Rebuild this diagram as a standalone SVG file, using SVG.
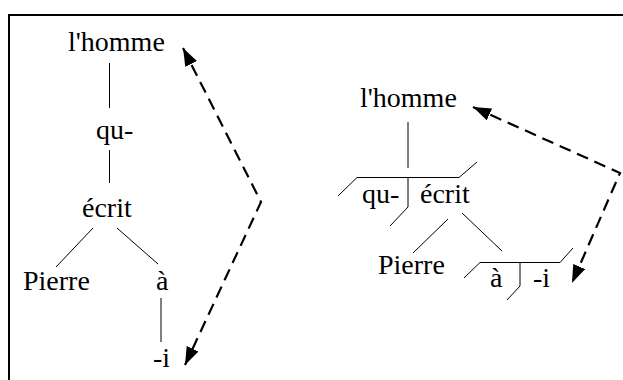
<svg xmlns="http://www.w3.org/2000/svg" width="623" height="380" viewBox="0 0 623 380">
<style>
.t{font-size:28px;fill:#000}
.l{stroke:#000;stroke-width:1;fill:none}
.d{stroke:#000;stroke-width:2.2;fill:none;stroke-dasharray:12 7}
</style>
<defs>
<marker id="ah" viewBox="0 0 18 13" refX="18" refY="6.5" markerWidth="18" markerHeight="13" markerUnits="userSpaceOnUse" orient="auto-start-reverse">
<path d="M0,0 L18,6.5 L0,13 Z" fill="#000"/>
</marker>
</defs>
<rect x="9" y="15" width="620" height="370" fill="#fff" stroke="#000" stroke-width="2"/>
<g class="t" font-family="Liberation Serif, Times New Roman, Tinos, DejaVu Serif, serif">
<g id="left-nodes">
<g id="l-homme"><text x="68" y="51">l'homme</text></g>
<g id="l-qu"><text x="96" y="139">qu-</text></g>
<g id="l-ecrit"><text x="82" y="217">écrit</text></g>
<g id="l-pierre"><text x="23" y="290">Pierre</text></g>
<g id="l-a"><text x="156" y="290">à</text></g>
<g id="l-i"><text x="153" y="367">-i</text></g>
</g>
<g id="right-nodes">
<g id="r-homme"><text x="360" y="107">l'homme</text></g>
<g id="r-qu-ecrit">
<path class="l" d="M338,196 L357,177.5 L459,177.5 L477,162"/>
<path class="l" d="M408,177.5 L408,207 L390,226"/>
<text x="362" y="203">qu-</text>
<text x="420" y="203">écrit</text>
</g>
<g id="r-pierre"><text x="378" y="274">Pierre</text></g>
<g id="r-a-i">
<path class="l" d="M464,278 L480,262.5 L560,262.5 L573,248"/>
<path class="l" d="M520,262.5 L520,286 L507,300"/>
<text x="490" y="287">à</text>
<text x="533" y="287">-i</text>
</g>
</g>
</g>
<g id="connectors">
<line class="l" x1="109.5" y1="63" x2="109.5" y2="108"/>
<line class="l" x1="109.5" y1="150" x2="109.5" y2="183"/>
<line class="l" x1="93" y1="228" x2="56" y2="267"/>
<line class="l" x1="117" y1="228" x2="158" y2="264"/>
<line class="l" x1="161" y1="298" x2="161" y2="342"/>
<line class="l" x1="408" y1="122" x2="408" y2="168"/>
<line class="l" x1="448" y1="219" x2="413" y2="253"/>
<line class="l" x1="462" y1="213" x2="502" y2="251"/>
<path class="d" d="M183,48 L261,202 L185,365" marker-start="url(#ah)" marker-end="url(#ah)"/>
<path class="d" d="M473,107 L620,173 L572,283" marker-start="url(#ah)" marker-end="url(#ah)"/>
</g>
</svg>
